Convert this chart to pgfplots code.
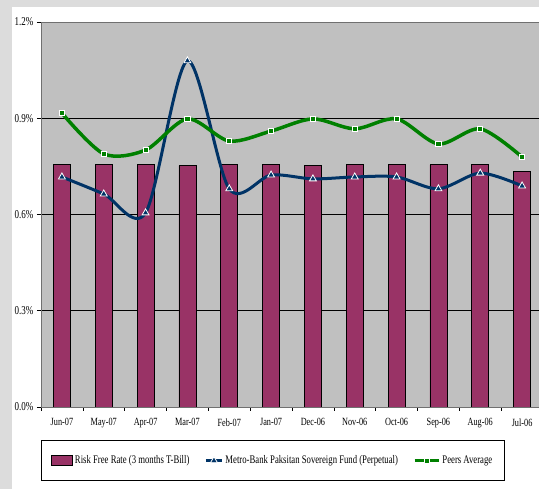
\documentclass[border=0pt]{standalone}
\usepackage{fontspec}
\setmainfont{Liberation Serif}[FakeStretch=0.75]
\usepackage{pgfplots}
\pgfplotsset{compat=1.18}
\definecolor{plum}{HTML}{993366}
\definecolor{navy}{HTML}{003366}
\definecolor{peer}{HTML}{008000}
\definecolor{plotbg}{HTML}{C0C0C0}
\definecolor{outerbg}{HTML}{DCDCDC}
\definecolor{frame}{HTML}{707070}
\pgfplotsset{
  shortline/.style={legend image code/.code={\draw[##1, mark repeat=2, mark phase=2] plot coordinates {(0pt,0pt)(8pt,0pt)(16pt,0pt)};}},
  longline/.style={legend image code/.code={\draw[##1, mark repeat=2, mark phase=2] plot coordinates {(0pt,0pt)(12pt,0pt)(24pt,0pt)};}},
}

\begin{document}
\begin{tikzpicture}[x=1pt,y=1pt]
\clip (0,0) rectangle (539,489);
\fill[outerbg] (0,0) rectangle (539,489);
\fill[white] (12,0) rectangle (539,482);
\begin{axis}[
  at={(41pt,82pt)}, anchor=south west, scale only axis,
  width=502pt, height=385pt,
  xmin=-0.5, xmax=11.5, ymin=0, ymax=1.2,
  axis background/.style={fill=plotbg},
  axis line style={draw=frame, line width=0.8pt},
  tick pos=left, tick align=outside,
  xtick={0,...,11},
  xticklabels={Jun-07,May-07,Apr-07,Mar-07,Feb-07,Jan-07,Dec-06,Nov-06,Oct-06,Sep-06,Aug-06,Jul-06},
  major x tick style={draw=none},
  minor xtick={-0.5,0.5,...,11.5},
  minor tick length=4pt,
  minor x tick style={black, line width=0.6pt},
  ytick={0,0.3,0.6,0.9,1.2},
  yticklabels={0.0\%,0.3\%,0.6\%,0.9\%,1.2\%},
  major tick length=4pt,
  y tick style={black, line width=0.6pt},
  ymajorgrids,
  grid style={black, line width=0.6pt},
  /pgf/number format/assume math mode=true,
  x tick label style={font=\fontsize{11}{12}\selectfont, yshift=-4pt},
  y tick label style={font=\fontsize{12}{13}\selectfont},
  legend style={at={(0,-0.087)}, anchor=north west, draw=black, line width=0.8pt,
    font=\fontsize{11.6}{13}\selectfont, inner ysep=13pt, inner xsep=10pt,
    legend columns=-1},
  legend cell align=left,
  /tikz/every even column/.append style={column sep=13pt},
]
% risk free rate bars
\addplot[ybar, bar width=17pt, fill=plum, draw=black, line width=0.6pt,
  legend image code/.code={\draw[fill=plum, draw=black, line width=0.6pt] (0pt,-5pt) rectangle (21pt,5pt);}]
  coordinates {(0,0.757) (1,0.757) (2,0.757) (3,0.752) (4,0.755) (5,0.755)
               (6,0.753) (7,0.755) (8,0.755) (9,0.755) (10,0.757) (11,0.735)};
\addlegendentry{Risk Free Rate (3 months T-Bill)}
% fund returns
\addplot[navy, line width=3pt, smooth, tension=0.5,
  mark=triangle*, mark size=4pt, mark options={fill=navy, draw=white, line width=0.8pt},
  shortline]
  coordinates {(0,0.717) (1,0.664) (2,0.605) (3,1.079) (4,0.680) (5,0.723)
               (6,0.711) (7,0.717) (8,0.717) (9,0.680) (10,0.729) (11,0.689)};
\addlegendentry{Metro-Bank Paksitan Sovereign Fund (Perpetual)}
% peer group average
\addplot[peer, line width=3.5pt, smooth, tension=0.5,
  mark=square*, mark size=2.6pt, mark options={fill=peer, draw=white, line width=0.8pt},
  longline]
  coordinates {(0,0.916) (1,0.789) (2,0.801) (3,0.898) (4,0.829) (5,0.860)
               (6,0.898) (7,0.867) (8,0.898) (9,0.820) (10,0.867) (11,0.779)};
\addlegendentry{Peers Average}
\draw[black, line width=0.8pt] (rel axis cs:0,0) -- (rel axis cs:1,0);
\draw[frame, line width=0.8pt] (rel axis cs:0,1) -- (rel axis cs:1,1);
\end{axis}
\end{tikzpicture}
\end{document}
